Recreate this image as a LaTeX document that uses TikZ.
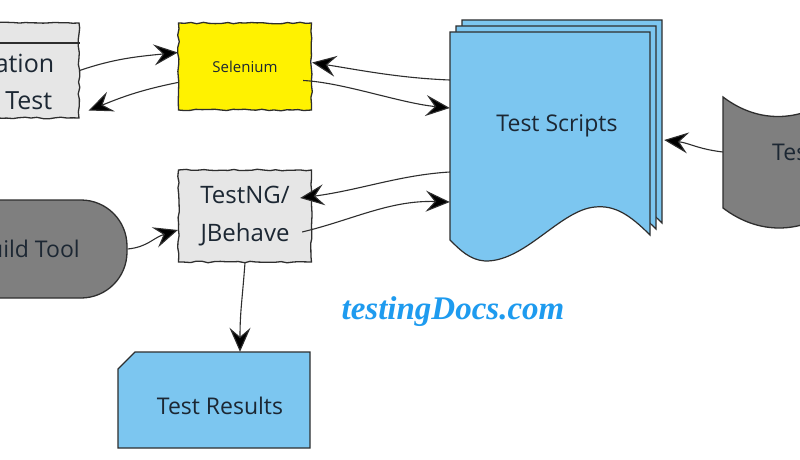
\documentclass[tikz,border=0pt]{standalone}
\usepackage{fontspec}
\setmainfont{Open Sans}
\usetikzlibrary{arrows.meta,calc,decorations.pathmorphing}
\definecolor{lgray}{HTML}{E6E6E6}
\definecolor{dgray}{HTML}{7F7F7F}
\definecolor{sblue}{HTML}{7CC6F0}
\definecolor{edge}{HTML}{2E2E2E}
\definecolor{ink}{HTML}{1C2733}
\definecolor{brand}{HTML}{1E9BEF}
\tikzset{bigtip/.tip={Stealth[length=24pt,width=21pt,inset=9pt,fill=black]}}
\begin{document}
\begin{tikzpicture}[x=1pt,y=-1pt,
  rough/.style={decorate,decoration={random steps,segment length=6pt,amplitude=0.8pt}},
  box/.style={draw=edge,line width=1.3pt,rough,inner sep=0pt},
  sheet/.style={draw=edge,line width=1.2pt,fill=sblue},
  arr/.style={draw=edge,line width=1.1pt,-bigtip},
  big/.style={text=ink,font=\fontsize{23}{36}\selectfont,align=center},
  ghost/.style={inner sep=0pt}
]
\pgfmathsetseed{7}
\useasboundingbox (0,0) rectangle (800,460);
\clip (0,0) rectangle (800,460);
\fill[white] (0,0) rectangle (800,460);

% Application under test (cut at left edge)
\node[box,fill=lgray,minimum width=180pt,minimum height=95pt] (app) at (-11,70.5) {};
\draw[edge,line width=1.2pt] (app.west |- 0,43) -- (app.east |- 0,43);
\node[big,font=\fontsize{25}{37}\selectfont] (apptxt) at (-11,82) {Application\\Under Test};

% Selenium
\node[box,fill=yellow,minimum width=133pt,minimum height=87pt,text=ink,font=\fontsize{15}{18}\selectfont] (sel) at (245,66.5) {Selenium};

% TestNG / JBehave
\node[box,fill=lgray,minimum width=133pt,minimum height=92pt,big,font=\fontsize{24}{38}\selectfont] (tng) at (245,216) {TestNG/\\JBehave};

% Build tool
\node[draw=edge,line width=1.3pt,fill=dgray,rounded corners=46pt,minimum width=200pt,minimum height=98pt,big] (build) at (27,249) {Build Tool};

% Test scripts (stacked documents)
\foreach \d in {12,6,0}{
  \filldraw[sheet,shift={(\d,-\d)}] (450,32) -- (650,32) -- (650,235)
    .. controls (630,215) and (615,205) .. (595,207)
    .. controls (560,210) and (525,262) .. (485,261)
    .. controls (470,260) and (460,250) .. (450,240) -- cycle;
}
\node[ghost,minimum width=200pt,minimum height=238pt] (scripts) at (550,151) {};
\node[big] (scriptstxt) at (557,126) {Test Scripts};

% Test data (tape, cut at right edge)
\filldraw[draw=edge,line width=1.3pt,fill=dgray] (723,97)
   .. controls (760,125) and (800,120) .. (830,100)
   .. controls (850,88) and (880,95) .. (905,105) -- (905,215)
   .. controls (880,205) and (850,200) .. (830,212)
   .. controls (800,232) and (760,236) .. (723,208) -- cycle;
\node[ghost,minimum width=182pt,minimum height=112pt] (tape) at (814,155) {};
\node[big] (tapetxt) at (822,152) {Test Data};

% Test results (card)
\node[ghost,minimum width=192pt,minimum height=96pt] (res) at (214,400) {};
\filldraw[draw=edge,line width=1.3pt,fill=sblue] (135,352) -- (310,352) -- (310,448) -- (118,448) -- (118,369) -- cycle;
\node[big] (restxt) at (220,406) {Test Results};

% watermark
\node[text=brand,font=\fontspec{Liberation Serif}\bfseries\itshape\fontsize{33}{36}\selectfont] (brandtxt) at (453,312) {testingDocs.com};

% connectors
\draw[arr] (app.east) .. controls +(35,-12) and +(-40,4) .. ([yshift=14pt]sel.west);
\draw[arr] ([yshift=-16pt]sel.west) .. controls +(-40,8) and +(30,-12) .. ([xshift=9pt,yshift=-40pt]app.east);
\draw[arr] ([yshift=71pt]scripts.west) .. controls +(-50,-2) and +(50,8) .. ([yshift=4pt]sel.east);
\draw[arr] ([xshift=-9pt,yshift=-14pt]sel.east) .. controls +(40,2) and +(-50,-5) .. ([yshift=43pt]scripts.west);
\draw[arr] ([yshift=-21pt]scripts.west) .. controls +(-50,3) and +(60,-8) .. ([xshift=-12pt,yshift=18pt]tng.east);
\draw[arr] ([xshift=-10pt,yshift=-16pt]tng.east) .. controls +(50,-12) and +(-60,-2) .. ([yshift=-51pt]scripts.west);
\draw[arr] (build.east) .. controls +(20,-2) and +(-25,8) .. ([yshift=-14pt]tng.west);
\draw[arr] (tng.south) .. controls +(-3,40) and +(0,-40) .. ([xshift=26pt]res.north);
\draw[arr] ([yshift=3pt]tape.west) .. controls +(-25,-3) and +(25,3) .. ([xshift=14pt,yshift=11pt]scripts.east);
\end{tikzpicture}
\end{document}
